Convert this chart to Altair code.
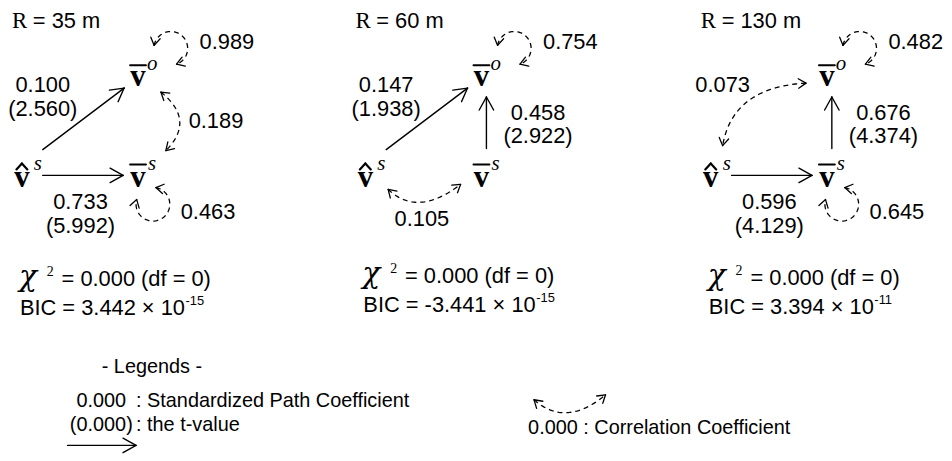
import math
import altair as alt
import pandas as pd

# ---------------- values ----------------
radius_labels = ["35 m", "60 m", "130 m"]
# v^s -> v-bar^o : standardized path coefficient and t-value
coef_hat_to_obar = [0.100, 0.147, None]
t_hat_to_obar = [2.560, 1.938, None]
# v^s -> v-bar^s
coef_hat_to_sbar = [0.733, None, 0.596]
t_hat_to_sbar = [5.992, None, 4.129]
# v-bar^s -> v-bar^o
coef_sbar_to_obar = [None, 0.458, 0.676]
t_sbar_to_obar = [None, 2.922, 4.374]
# self loops (error variances)
var_obar = [0.989, 0.754, 0.482]
var_sbar = [0.463, None, 0.645]
# correlation coefficients
corr_obar_sbar = [0.189, None, None]
corr_hat_sbar = [None, 0.105, None]
corr_hat_obar = [None, None, 0.073]
# fit statistics
chi_square = [0.000, 0.000, 0.000]
deg_free = [0, 0, 0]
bic_mantissa = ["3.442", "-3.441", "3.394"]
bic_exponent = ["-15", "-15", "-11"]

legend_title = "- Legends -"
legend_path = ["0.000", ": Standardized Path Coefficient"]
legend_t = ["(0.000)", ": the t-value"]
legend_corr = "0.000 : Correlation Coefficient"

# ---------------- layout (pixel space of the page) ----------------
PANEL_X = [0, 346, 694]
STAT_DY = [0, -3, -1]

ARIAL = {**{str(d): 556 for d in range(10)}, ".": 278, " ": 278, "=": 584,
         "\u00d7": 584, "B": 667, "I": 278, "C": 722, "-": 333}


def text_width(s, size):
    return sum(ARIAL.get(c, 556) for c in s) / 1000 * size


rules, curves, texts = [], [], {}
cid = [0]


def add_text(style, x, y, t):
    texts.setdefault(style, []).append(dict(x=x, y=y, t=t))


def add_seg(x1, y1, x2, y2, w):
    rules.append(dict(x=x1, y=y1, x2=x2, y2=y2, w=w))


def add_head(tx, ty, dx, dy, L, ang, w):
    n = math.hypot(dx, dy)
    ux, uy = dx / n, dy / n
    for s in (1, -1):
        a = math.radians(ang) * s
        bx = -ux * math.cos(a) + uy * math.sin(a)
        by = -ux * math.sin(a) - uy * math.cos(a)
        add_seg(tx, ty, tx + L * bx, ty + L * by, w)


def arrow(x1, y1, x2, y2):
    add_seg(x1, y1, x2, y2, 1.4)
    add_head(x2, y2, x2 - x1, y2 - y1, 15, 29, 1.4)


def add_curve(pts):
    cid[0] += 1
    for k, (x, y) in enumerate(pts):
        curves.append(dict(x=x, y=y, id=cid[0], k=k))


def bezier(p0, c, p2, n=40):
    pts = []
    for i in range(n + 1):
        t = i / n
        pts.append(((1 - t) ** 2 * p0[0] + 2 * (1 - t) * t * c[0] + t * t * p2[0],
                    (1 - t) ** 2 * p0[1] + 2 * (1 - t) * t * c[1] + t * t * p2[1]))
    add_curve(pts)
    add_head(p0[0], p0[1], p0[0] - c[0], p0[1] - c[1], 9, 32, 1.3)
    add_head(p2[0], p2[1], p2[0] - c[0], p2[1] - c[1], 9, 32, 1.3)


def loop(cx, cy, r, a0, a1, n=60):
    pts = []
    for i in range(n + 1):
        th = math.radians(a0 + (a1 - a0) * i / n)
        pts.append((cx + r * math.cos(th), cy - r * math.sin(th)))
    add_curve(pts)
    t0, t1 = math.radians(a0), math.radians(a1)
    add_head(pts[0][0], pts[0][1], -math.sin(t0), -math.cos(t0), 9, 32, 1.3)
    add_head(pts[-1][0], pts[-1][1], math.sin(t1), math.cos(t1), 9, 32, 1.3)


for i in range(3):
    ox = PANEL_X[i]
    sy = STAT_DY[i]
    # title
    add_text("title_R", ox + 12, 24, "R")
    add_text("title", ox + 33, 24, "= " + radius_labels[i])
    # nodes
    for vx, vy in [(139, 83), (139, 185), (22, 185)]:
        add_text("vnode", ox + vx, vy, "v")
    add_seg(ox + 131, 62, ox + 147, 62, 2.0)
    add_seg(ox + 131, 162, ox + 147, 162, 2.0)
    add_seg(ox + 16.5, 167, ox + 22, 161, 2.2)
    add_seg(ox + 22, 161, ox + 27.5, 167, 2.2)
    add_text("sup", ox + 148, 67, "o")
    add_text("sup", ox + 149, 168, "s")
    add_text("sup", ox + 34, 168, "s")
    # paths
    if coef_hat_to_obar[i] is not None:
        arrow(ox + 43, 147, ox + 125, 85)
        add_text("lab_c", ox + 43, 82, f"{coef_hat_to_obar[i]:.3f}")
        add_text("lab_c", ox + 43, 106, f"({t_hat_to_obar[i]:.3f})")
    if coef_hat_to_sbar[i] is not None:
        arrow(ox + 43, 173, ox + 124, 173)
        add_text("lab_c", ox + 81, 200, f"{coef_hat_to_sbar[i]:.3f}")
        add_text("lab_c", ox + 81, 224, f"({t_hat_to_sbar[i]:.3f})")
    if coef_sbar_to_obar[i] is not None:
        arrow(ox + 144, 146, ox + 144, 94)
        add_text("lab_c", ox + 196, 110, f"{coef_sbar_to_obar[i]:.3f}")
        add_text("lab_c", ox + 196, 133, f"({t_sbar_to_obar[i]:.3f})")
    # self loops
    if var_obar[i] is not None:
        loop(ox + 172, 45, 17, 170, -70)
        add_text("lab_l", ox + 201, 39, f"{var_obar[i]:.3f}")
    if var_sbar[i] is not None:
        loop(ox + 154, 202, 17, 80, -196)
        add_text("lab_l", ox + 182, 210, f"{var_sbar[i]:.3f}")
    # correlations
    if corr_obar_sbar[i] is not None:
        bezier((ox + 162, 89), (ox + 197.5, 117.5), (ox + 167, 148))
        add_text("lab_l", ox + 190, 118, f"{corr_obar_sbar[i]:.3f}")
    if corr_hat_sbar[i] is not None:
        bezier((ox + 45, 187), (ox + 74.5, 215.5), (ox + 118, 182))
        add_text("lab_c", ox + 79, 217, f"{corr_hat_sbar[i]:.3f}")
    if corr_hat_obar[i] is not None:
        bezier((ox + 118, 80), (ox + 44, 84), (ox + 34, 143))
        add_text("lab_c", ox + 34, 82, f"{corr_hat_obar[i]:.3f}")
    # fit statistics
    add_text("chi", ox + 19, 284 + sy, "\u03c7")
    add_text("chi_sup", ox + 47, 274 + sy, "2")
    add_text("lab_l", ox + 62, 277 + sy, f"= {chi_square[i]:.3f} (df = {deg_free[i]})")
    bic = f"BIC = {bic_mantissa[i]} \u00d7 10"
    add_text("lab_l", ox + 20, 307 + sy, bic)
    add_text("bic_sup", ox + 20 + text_width(bic, 22) + 0.5, 300 + sy, bic_exponent[i])

# legend
add_text("leg_c", 153, 366, legend_title)
add_text("leg_c", 102, 400, legend_path[0])
add_text("leg_l", 137, 400, legend_path[1])
add_text("leg_c", 102, 424, legend_t[0])
add_text("leg_l", 137, 424, legend_t[1])
arrow(68, 445, 137, 445)
bezier((538, 399), (570, 427.5), (610, 394))
add_text("leg_l", 532, 428, legend_corr)

# ---------------- chart ----------------
XS = alt.Scale(domain=[8, 944], nice=False, zero=False)
YS = alt.Scale(domain=[8, 453], reverse=True, nice=False, zero=False)


def ex():
    return alt.X("x:Q", scale=XS, axis=None)


def ey():
    return alt.Y("y:Q", scale=YS, axis=None)


SANS = "Liberation Sans"
SERIF = "Liberation Serif"
styles = {
    "title_R": dict(font=SERIF, fontSize=23, align="left", baseline="alphabetic"),
    "title": dict(font=SANS, fontSize=22, align="left", baseline="alphabetic"),
    "lab_c": dict(font=SANS, fontSize=22, align="center", baseline="middle"),
    "lab_l": dict(font=SANS, fontSize=22, align="left", baseline="middle"),
    "vnode": dict(font=SERIF, fontSize=31, fontWeight="bold", align="center", baseline="alphabetic"),
    "sup": dict(font=SERIF, fontSize=21, fontStyle="italic", align="left", baseline="alphabetic"),
    "chi": dict(font="DejaVu Serif", fontSize=30, fontStyle="italic", align="left", baseline="alphabetic"),
    "chi_sup": dict(font=SERIF, fontSize=14, align="left", baseline="alphabetic"),
    "bic_sup": dict(font=SANS, fontSize=13, align="left", baseline="middle"),
    "leg_c": dict(font=SANS, fontSize=20, align="center", baseline="middle"),
    "leg_l": dict(font=SANS, fontSize=20, align="left", baseline="middle"),
}

layers = []
layers.append(
    alt.Chart(pd.DataFrame(rules)).mark_rule(color="black", strokeCap="round").encode(
        x=ex(), y=ey(), x2="x2:Q", y2="y2:Q",
        strokeWidth=alt.StrokeWidth("w:Q", scale=None, legend=None),
    )
)
layers.append(
    alt.Chart(pd.DataFrame(curves)).mark_line(color="black", strokeDash=[5, 4], strokeWidth=1.3).encode(
        x=ex(), y=ey(), detail="id:N", order="k:Q",
    )
)
for name, rows in texts.items():
    layers.append(
        alt.Chart(pd.DataFrame(rows)).mark_text(color="black", **styles[name]).encode(
            x=ex(), y=ey(), text="t:N",
        )
    )

chart = alt.layer(*layers).properties(width=936, height=445, padding=0).configure_view(stroke=None)
chart.save("out.html", embed_options={"renderer": "svg", "actions": False})
